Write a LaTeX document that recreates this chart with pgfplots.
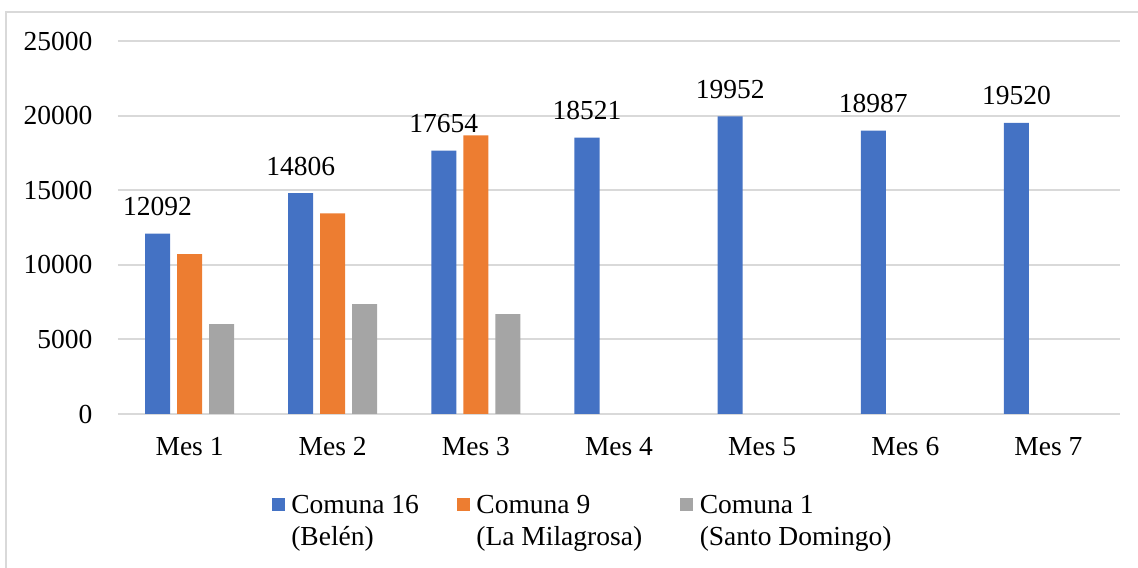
\documentclass[border=0pt]{standalone}
\usepackage{fontspec}
\setmainfont{Liberation Serif}
\usepackage{pgfplots}
\pgfplotsset{compat=1.18}
\definecolor{cblue}{HTML}{4472C4}
\definecolor{corange}{HTML}{ED7D31}
\definecolor{cgray}{HTML}{A5A5A5}
\definecolor{gridc}{HTML}{D9D9D9}
\begin{document}
\fontsize{13.75}{16}\selectfont
\begin{tikzpicture}
\useasboundingbox (0,0) rectangle (569pt,283.5pt);
\draw[gridc, line width=0.8pt] (3pt,-20pt) -- (3pt,277.5pt) -- (600pt,277.5pt);
\begin{axis}[
    at={(59pt,76.5pt)}, anchor=south west,
    scale only axis, width=501pt, height=186.5pt,
    ybar, bar width=0.1747,
    xmin=-0.5, xmax=6.5, ymin=0, ymax=25000,
    xtick={0,1,2,3,4,5,6},
    xticklabels={Mes 1, Mes 2, Mes 3, Mes 4, Mes 5, Mes 6, Mes 7},
    ytick={0,5000,10000,15000,20000,25000},
    scaled y ticks=false,
    axis line style={draw=none},
    major tick length=0pt,
    ymajorgrids, grid style={line width=1pt, gridc},
    /pgf/number format/.cd, 1000 sep={}, assume math mode=true, /pgfplots/.cd,
    xticklabel style={yshift=-7pt},
    yticklabel style={xshift=-8pt},
    nodes near coords style={yshift=4pt, black},
    legend columns=3,
    legend style={at={(0.1534,-0.207)}, anchor=north west, draw=none,
        inner sep=0pt, outer sep=0pt,
        /tikz/every odd column/.style={column sep=3.3pt},
        /tikz/every even column/.style={column sep=19pt},
        cells={anchor=base west}, nodes={inner sep=0pt}},
    legend image code/.code={\fill[#1] (0pt,1.5pt) rectangle (6.5pt,8pt);},
]
\addplot[fill=cblue, draw=none, bar shift=-0.2236, nodes near coords]
    coordinates {(0,12092) (1,14806) (2,17654) (3,18521) (4,19952) (5,18987) (6,19520)};
\addlegendentry{\begin{tabular}[t]{@{}l@{}}Comuna 16\\(Belén)\end{tabular}}
\addplot[fill=corange, draw=none, bar shift=0]
    coordinates {(0,10720) (1,13440) (2,18670)};
\addlegendentry{\begin{tabular}[t]{@{}l@{}}Comuna 9\\(La Milagrosa)\end{tabular}}
\addplot[fill=cgray, draw=none, bar shift=0.2236]
    coordinates {(0,6030) (1,7370) (2,6700)};
\addlegendentry{\begin{tabular}[t]{@{}l@{}}Comuna 1\\(Santo Domingo)\end{tabular}}
\end{axis}
\end{tikzpicture}
\end{document}
